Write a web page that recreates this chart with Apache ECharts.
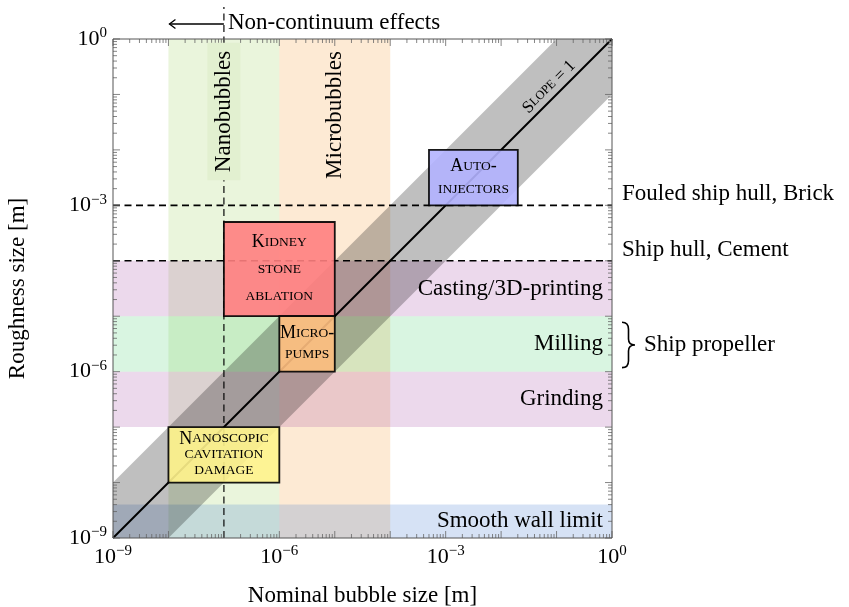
<!DOCTYPE html>
<html><head><meta charset="utf-8">
<script src="https://cdn.jsdelivr.net/npm/echarts@6/dist/echarts.min.js"></script>
<style>html,body{margin:0;padding:0;background:#fff}#c{width:849px;height:607px}</style>
</head><body><div id="c"></div>
<script>
// ---------------- data ----------------
const axisMin = 1e-9, axisMax = 1;
const majorLabelExponents = [-9, -6, -3, 0];

const vBandNames = ['Nanobubbles', 'Microbubbles'];
const vBandFrom = [1e-8, 1e-6];
const vBandTo = [1e-6, 1e-4];

const hBandNames = ['Casting/3D-printing', 'Milling', 'Grinding', 'Smooth wall limit'];
const hBandFrom = [1e-5, 1e-6, 1e-7, 1e-9];
const hBandTo = [1e-4, 1e-5, 1e-6, 4e-9];

const hLineValues = [1e-3, 1e-4];
const hLineNames = ['Fouled ship hull, Brick', 'Ship hull, Cement'];

const braceFrom = 1e-6, braceTo = 1e-5;
const braceName = 'Ship propeller';

const nonContinuumX = 1e-7;
const nonContinuumArrowTo = 1e-8;
const nonContinuumName = 'Non-continuum effects';

const slopeLinePoints = [[1e-9, 1e-9], [1, 1]];
const slopeBandFactor = 10;
const slopeName = 'Slope = 1';

const boxNames = [['Auto-', 'injectors'], ['Kidney', 'stone', 'ablation'], ['Micro-', 'pumps'], ['Nanoscopic', 'cavitation', 'damage']];
const boxXFrom = [5e-4, 1e-7, 1e-6, 1e-8];
const boxXTo = [2e-2, 1e-5, 1e-5, 1e-6];
const boxYFrom = [1e-3, 1e-5, 1e-6, 1e-8];
const boxYTo = [1e-2, 5e-4, 1e-5, 1e-7];

// ---------------- styles ----------------
const FONT = '"Liberation Serif", "DejaVu Serif", serif';
const FS = 23;
const vBandColors = ['rgba(150,205,80,0.2)', 'rgba(245,150,40,0.2)'];
const vBandLabelBg = ['#e2f0d0', null];
const vBandLabelOffset = [72.5, 76];
const hBandColors = ['rgba(160,65,160,0.2)', 'rgba(65,205,105,0.2)', 'rgba(160,65,160,0.2)', 'rgba(50,110,205,0.2)'];
const boxColors = ['#b3b3ff', '#ff8080', '#ffbf80', '#fff38c'];
const boxLineHeights = [23, 27, 21, 16];

function smallCaps(str) {
  let out = '', cur = null, buf = '';
  for (const ch of str) {
    const isLower = ch !== ch.toUpperCase();
    const st = isLower ? 's' : 'B';
    if (st !== cur) { if (buf) out += '{' + cur + '|' + buf + '}'; buf = ''; cur = st; }
    buf += isLower ? ch.toUpperCase() : ch;
  }
  if (buf) out += '{' + cur + '|' + buf + '}';
  return out;
}

const axisRich = {
  b: { fontFamily: FONT, fontSize: 22, lineHeight: 26, color: '#000' },
  s: { fontFamily: FONT, fontSize: 15, lineHeight: 15, verticalAlign: 'top', color: '#000' }
};
function tickFmt(v) {
  const e = Math.round(Math.log10(v));
  if (majorLabelExponents.indexOf(e) < 0) return '';
  return '{b|10}{s|' + (e < 0 ? '\u2212' + (-e) : String(e)) + '}';
}

const majorTicks = [];
for (let e = -9; e <= 0; e++) majorTicks.push(Math.pow(10, e));
const minorTicks = [];
for (let e = -9; e < 0; e++) for (let m = 2; m <= 9; m++) minorTicks.push(m * Math.pow(10, e));
const tickData = majorTicks.map(v => [v, v, 1]).concat(minorTicks.map(v => [v, v, 0]));

const vBandData = vBandNames.map((n, i) => [vBandFrom[i], axisMin, vBandTo[i], axisMax, i]);
const hBandData = hBandNames.map((n, i) => [axisMin, hBandFrom[i], axisMax, hBandTo[i], i]);
const hLineData = hLineValues.map((v, i) => [axisMin, v, axisMax, v, i]);
const boxData = boxNames.map((n, i) => [boxXFrom[i], boxYFrom[i], boxXTo[i], boxYTo[i], i]);

function rectFrom(api) {
  const p0 = api.coord([api.value(0), api.value(1)]);
  const p1 = api.coord([api.value(2), api.value(3)]);
  return { x: Math.min(p0[0], p1[0]), y: Math.min(p0[1], p1[1]), width: Math.abs(p1[0] - p0[0]), height: Math.abs(p1[1] - p0[1]) };
}

const chart = echarts.init(document.getElementById('c'), null, { renderer: 'canvas' });
const option = {
  animation: false,
  backgroundColor: '#fff',
  tooltip: { show: false },
  grid: { left: 113, top: 39, width: 499, height: 499, show: false, containLabel: false, outerBoundsMode: 'none' },
  xAxis: {
    type: 'log', logBase: 10, min: axisMin, max: axisMax,
    name: 'Nominal bubble size [m]', nameLocation: 'middle', nameGap: 46,
    nameTextStyle: { fontFamily: FONT, fontSize: FS, color: '#000' },
    axisLine: { show: false }, axisTick: { show: false }, splitLine: { show: false },
    axisLabel: { interval: 0, margin: 6, formatter: tickFmt, rich: axisRich, showMinLabel: true, showMaxLabel: true }
  },
  yAxis: {
    type: 'log', logBase: 10, min: axisMin, max: axisMax,
    name: 'Roughness size [m]', nameLocation: 'middle', nameGap: 84,
    nameTextStyle: { fontFamily: FONT, fontSize: FS, color: '#000' },
    axisLine: { show: false }, axisTick: { show: false }, splitLine: { show: false },
    axisLabel: { interval: 0, margin: 6, formatter: tickFmt, rich: axisRich, showMinLabel: true, showMaxLabel: true }
  },
  series: [
    { // vertical bands
      type: 'custom', z: 1, silent: true, data: vBandData,
      renderItem: (params, api) => {
        const i = api.value(4);
        return { type: 'rect', shape: rectFrom(api), style: { fill: vBandColors[i] } };
      }
    },
    { // horizontal bands
      type: 'custom', z: 2, silent: true, data: hBandData,
      renderItem: (params, api) => {
        const i = api.value(4);
        return { type: 'rect', shape: rectFrom(api), style: { fill: hBandColors[i] } };
      }
    },
    { // slope band
      type: 'custom', z: 3, silent: true, data: [[axisMin, axisMin]],
      renderItem: (params, api) => {
        const f = slopeBandFactor;
        const pts = [[axisMin, axisMin], [axisMin, axisMin * f], [axisMax / f, axisMax], [axisMax, axisMax], [axisMax, axisMax / f], [axisMin * f, axisMin]].map(p => api.coord(p));
        return { type: 'polygon', shape: { points: pts }, style: { fill: 'rgba(0,0,0,0.25)' } };
      }
    },
    { // horizontal dashed lines
      type: 'custom', z: 4, silent: true, data: hLineData,
      renderItem: (params, api) => {
        const p0 = api.coord([api.value(0), api.value(1)]);
        const p1 = api.coord([api.value(2), api.value(3)]);
        return { type: 'line', shape: { x1: p0[0], y1: p0[1], x2: p1[0], y2: p1[1] }, style: { stroke: '#000', lineWidth: 1.6, lineDash: [7, 4.5] } };
      }
    },
    { // non-continuum vertical line, arrow and text
      type: 'custom', z: 4, silent: true, data: [[nonContinuumX, axisMin, nonContinuumArrowTo]],
      renderItem: (params, api) => {
        const b = api.coord([api.value(0), api.value(1)]);
        const t = api.coord([api.value(0), axisMax]);
        const a = api.coord([api.value(2), axisMax]);
        const ay = t[1] - 15;
        return { type: 'group', children: [
          { type: 'line', shape: { x1: b[0], y1: b[1], x2: b[0], y2: t[1] - 32 }, style: { stroke: 'rgba(0,0,0,0.78)', lineWidth: 1.5, lineDash: [7, 4.5] } },
          { type: 'line', shape: { x1: b[0], y1: ay, x2: a[0] + 1, y2: ay }, style: { stroke: '#000', lineWidth: 1.3 } },
          { type: 'polyline', shape: { points: [[a[0] + 7, ay - 4.5], [a[0] + 1, ay], [a[0] + 7, ay + 4.5]] }, style: { stroke: '#000', lineWidth: 1.3, fill: null } },
          { type: 'text', x: b[0] + 4, y: ay - 1, style: { text: nonContinuumName, fontFamily: FONT, fontSize: FS, fill: '#000', align: 'left', verticalAlign: 'middle' } }
        ] };
      }
    },
    { // slope = 1 line
      type: 'line', z: 5, silent: true, data: slopeLinePoints, symbol: 'none',
      lineStyle: { color: '#000', width: 2 }
    },
    { // boxes
      type: 'custom', z: 6, silent: true, data: boxData,
      renderItem: (params, api) => {
        const i = api.value(4);
        return { type: 'rect', shape: rectFrom(api), style: { fill: boxColors[i], opacity: 0.9, stroke: '#000', lineWidth: 1.8 } };
      }
    },
    { // ticks
      type: 'custom', z: 7, silent: true, data: tickData,
      renderItem: (params, api) => {
        const v = api.value(0);
        const L = api.value(2) === 1 ? 7 : 4;
        const b = api.coord([v, axisMin]), t = api.coord([v, axisMax]);
        const l = api.coord([axisMin, v]), r = api.coord([axisMax, v]);
        const st = { stroke: '#666', lineWidth: 0.8 };
        return { type: 'group', children: [
          { type: 'line', shape: { x1: b[0], y1: b[1], x2: b[0], y2: b[1] - L }, style: st },
          { type: 'line', shape: { x1: t[0], y1: t[1], x2: t[0], y2: t[1] + L }, style: st },
          { type: 'line', shape: { x1: l[0], y1: l[1], x2: l[0] + L, y2: l[1] }, style: st },
          { type: 'line', shape: { x1: r[0], y1: r[1], x2: r[0] - L, y2: r[1] }, style: st }
        ] };
      }
    },
    { // frame
      type: 'custom', z: 7, silent: true, data: [[axisMin, axisMin, axisMax, axisMax]],
      renderItem: (params, api) => ({ type: 'rect', shape: rectFrom(api), style: { fill: null, stroke: '#555', lineWidth: 1 } })
    },
    { // horizontal band labels
      type: 'custom', z: 8, silent: true, data: hBandData,
      renderItem: (params, api) => {
        const i = api.value(4);
        const r = rectFrom(api);
        return { type: 'text', x: r.x + r.width - 9, y: r.y + r.height / 2, style: { text: hBandNames[i], fontFamily: FONT, fontSize: FS, fill: '#000', align: 'right', verticalAlign: 'middle' } };
      }
    },
    { // vertical band labels
      type: 'custom', z: 8, silent: true, data: vBandData,
      renderItem: (params, api) => {
        const i = api.value(4);
        const c = api.coord([Math.sqrt(api.value(0) * api.value(2)), axisMax]);
        const st = { text: vBandNames[i], fontFamily: FONT, fontSize: FS, fill: '#000', align: 'center', verticalAlign: 'middle' };
        if (vBandLabelBg[i]) { st.backgroundColor = vBandLabelBg[i]; st.padding = [5, 8]; }
        return { type: 'text', x: c[0], y: c[1] + vBandLabelOffset[i], rotation: Math.PI / 2, style: st };
      }
    },
    { // right side labels for dashed lines
      type: 'custom', z: 8, silent: true, data: hLineData,
      renderItem: (params, api) => {
        const i = api.value(4);
        const p = api.coord([api.value(2), api.value(3)]);
        return { type: 'text', x: p[0] + 10, y: p[1] - 11, style: { text: hLineNames[i], fontFamily: FONT, fontSize: FS, fill: '#000', align: 'left', verticalAlign: 'middle' } };
      }
    },
    { // brace
      type: 'custom', z: 8, silent: true, data: [[axisMax, braceFrom, axisMax, braceTo]],
      renderItem: (params, api) => {
        const pb = api.coord([api.value(0), api.value(1)]);
        const pt = api.coord([api.value(2), api.value(3)]);
        const x0 = pb[0] + 10, y0 = pt[1] + 6, y1 = pb[1] - 4, ym = (y0 + y1) / 2, w = 13, h = w / 2;
        const d = 'M' + x0 + ' ' + y0 + ' Q' + (x0 + h) + ' ' + y0 + ' ' + (x0 + h) + ' ' + (y0 + 7) +
          ' L' + (x0 + h) + ' ' + (ym - 6) + ' Q' + (x0 + h) + ' ' + ym + ' ' + (x0 + w) + ' ' + ym +
          ' Q' + (x0 + h) + ' ' + ym + ' ' + (x0 + h) + ' ' + (ym + 6) +
          ' L' + (x0 + h) + ' ' + (y1 - 7) + ' Q' + (x0 + h) + ' ' + y1 + ' ' + x0 + ' ' + y1;
        return { type: 'group', children: [
          { type: 'path', shape: { pathData: d }, style: { stroke: '#000', lineWidth: 1.6, fill: null } },
          { type: 'text', x: x0 + w + 9, y: ym, style: { text: braceName, fontFamily: FONT, fontSize: FS, fill: '#000', align: 'left', verticalAlign: 'middle' } }
        ] };
      }
    },
    { // box labels
      type: 'custom', z: 8, silent: true, data: boxData,
      renderItem: (params, api) => {
        const i = api.value(4);
        const r = rectFrom(api);
        const lh = boxLineHeights[i];
        return { type: 'text', x: r.x + r.width / 2, y: r.y + r.height / 2, style: {
          text: boxNames[i].map(smallCaps).join('\n'), align: 'center', verticalAlign: 'middle', fill: '#000',
          rich: { B: { fontFamily: FONT, fontSize: 18, lineHeight: lh, color: '#000' }, s: { fontFamily: FONT, fontSize: 13.5, lineHeight: lh, color: '#000' } }
        } };
      }
    },
    { // slope label
      type: 'custom', z: 8, silent: true, data: [[Math.pow(10, -1.0), Math.pow(10, -1.0)]],
      renderItem: (params, api) => {
        const p = api.coord([api.value(0), api.value(1)]);
        return { type: 'text', x: p[0] - 7.5, y: p[1] - 7.5, rotation: Math.PI / 4, style: {
          text: smallCaps(slopeName), align: 'center', verticalAlign: 'middle', fill: '#000',
          rich: { B: { fontFamily: FONT, fontSize: 17, color: '#000' }, s: { fontFamily: FONT, fontSize: 12.5, color: '#000' } }
        } };
      }
    }
  ]
};
chart.setOption(option);
</script></body></html>
